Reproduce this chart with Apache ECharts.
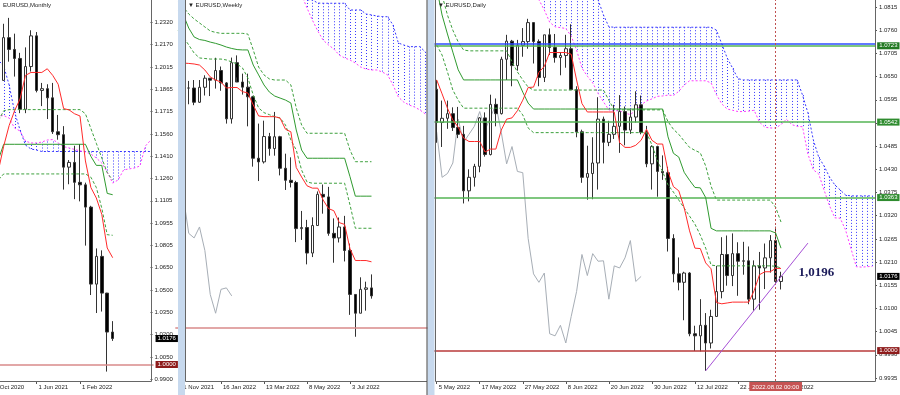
<!DOCTYPE html>
<html><head><meta charset="utf-8">
<script src="https://cdn.jsdelivr.net/npm/echarts/dist/echarts.min.js"></script>
<style>html,body{margin:0;padding:0;background:#fff}#c{width:900px;height:395px}</style>
</head><body><div id="c"></div>
<script>
// ================= MONTHLY =================
const mCats = ['2020.10','2020.11','2020.12','2021.01','2021.02','2021.03','2021.04','2021.05','2021.06','2021.07','2021.08','2021.09','2021.10','2021.11','2021.12','2022.01','2022.02','2022.03','2022.04','2022.05','2022.06','2022.07','2022.08','2022.09','2022.10','2022.11','2022.12','2023.01','2023.02','2023.03'];
const mOpen  = [1.1720,1.1646,1.1926,1.2216,1.2136,1.2075,1.1730,1.2020,1.2228,1.1858,1.1870,1.1808,1.1578,1.1558,1.1338,1.1370,1.1235,1.1218,1.1067,1.0545,1.0733,1.0484,1.0220];
const mHigh  = [1.1881,1.2004,1.2310,1.2350,1.2243,1.2113,1.2150,1.2266,1.2254,1.1909,1.1900,1.1909,1.1692,1.1616,1.1386,1.1483,1.1495,1.1233,1.1076,1.0787,1.0774,1.0486,1.0294];
const mLow   = [1.1612,1.1603,1.1925,1.2053,1.1952,1.1704,1.1704,1.1986,1.1845,1.1752,1.1664,1.1563,1.1524,1.1186,1.1222,1.1121,1.1106,1.0806,1.0471,1.0349,1.0359,0.9952,1.0160];
const mClose = [1.1646,1.1926,1.2216,1.2136,1.2075,1.1730,1.2020,1.2228,1.1858,1.1870,1.1808,1.1578,1.1558,1.1338,1.1370,1.1235,1.1218,1.1067,1.0545,1.0733,1.0484,1.0220,1.0176];
const mTenkan = [1.1250,1.1310,1.1480,1.1620,1.1720,1.1800,1.1960,1.1980,1.1980,1.1980,1.2005,1.1960,1.1900,1.1735,1.1726,1.1700,1.1685,1.1380,1.1200,1.1129,1.1018,1.0790,1.0724];
const mKijun  = [1.1330,1.1386,1.1493,1.1493,1.1493,1.1493,1.1493,1.1493,1.1493,1.1493,1.1493,1.1493,1.1493,1.1493,1.1493,1.1493,1.1493,1.1493,1.1411,1.1350,1.1350,1.1160,1.1151];
const mDashUp  = [1.1600,1.1650,1.1720,1.1728,1.1728,1.1728,1.1728,1.1728,1.1728,1.1728,1.1728,1.1728,1.1728,1.1728,1.1728,1.1728,1.1728,1.1700,1.1600,1.1500,1.1400,1.1300,1.1250];
const mDashLow = [1.1200,1.1250,1.1292,1.1292,1.1292,1.1292,1.1292,1.1292,1.1292,1.1292,1.1292,1.1292,1.1292,1.1292,1.1292,1.1292,1.1292,1.1292,1.1270,1.1200,1.1060,1.0880,1.0876];
const mSpanBlue = [1.2150,1.2064,1.2024,1.1895,1.1712,1.1590,1.1488,1.1461,1.1454,1.1444,1.1444,1.1444,1.1444,1.1444,1.1444,1.1444,1.1444,1.1444,1.1444,1.1444,1.1444,1.1444,1.1444,1.1444,1.1444,1.1444,1.1444,1.1444,1.1444,1.1444];
const mSpanMag  = [1.1690,1.1684,1.1688,1.1671,1.1603,1.1583,1.1515,1.1502,1.1502,1.1508,1.1522,1.1525,1.1502,1.1477,1.1468,1.1458,1.1448,1.1441,1.1427,1.1400,1.1366,1.1305,1.1230,1.1251,1.1319,1.1326,1.1332,1.1346,1.1481,1.1522];
const mPriceTicks = ['0.9900','1.0050','1.0200','1.0350','1.0500','1.0650','1.0805','1.0955','1.1105','1.1260','1.1410','1.1560','1.1715','1.1865','1.2015','1.2170','1.2320'];
const mTimeTickIdx = [0,8,16];
const mTimeTicks = ['1 Oct 2020','1 Jun 2021','1 Feb 2022'];

// ================= WEEKLY =================
const wCats = ['2021.11.21','2021.11.28','2021.12.05','2021.12.12','2021.12.19','2021.12.26','2022.01.02','2022.01.09','2022.01.16','2022.01.23','2022.01.30','2022.02.06','2022.02.13','2022.02.20','2022.02.27','2022.03.06','2022.03.13','2022.03.20','2022.03.27','2022.04.03','2022.04.10','2022.04.17','2022.04.24','2022.05.01','2022.05.08','2022.05.15','2022.05.22','2022.05.29','2022.06.05','2022.06.12','2022.06.19','2022.06.26','2022.07.03','2022.07.10','2022.07.17','2022.07.24','2022.07.31','2022.08.07','2022.08.14','2022.08.21','2022.08.28','2022.09.04','2022.09.11','2022.09.18','2022.09.25','2022.10.02','2022.10.09'];
const wOpen  = [null,1.1318,1.1316,1.1316,1.1238,1.1320,1.1370,1.1359,1.1412,1.1344,1.1147,1.1455,1.1349,1.1321,1.1268,1.0931,1.0911,1.1050,1.0984,1.1049,1.0876,1.0810,1.0798,1.0545,1.0551,1.0411,1.0562,1.0733,1.0719,1.0519,1.0494,1.0554,1.0425,1.0184,1.0081,1.0212,1.0220];
const wHigh  = [null,1.1383,1.1355,1.1360,1.1360,1.1386,1.1370,1.1482,1.1434,1.1349,1.1483,1.1495,1.1395,1.1395,1.1273,1.1121,1.1137,1.1070,1.1185,1.1054,1.0956,1.0936,1.0807,1.0642,1.0593,1.0607,1.0749,1.0787,1.0774,1.0601,1.0606,1.0615,1.0463,1.0186,1.0278,1.0254,1.0294];
const wLow   = [null,1.1235,1.1227,1.1222,1.1234,1.1275,1.1272,1.1313,1.1301,1.1121,1.1121,1.1374,1.1280,1.1106,1.0885,1.0806,1.0902,1.0945,1.0945,1.0837,1.0757,1.0771,1.0471,1.0483,1.0349,1.0389,1.0560,1.0627,1.0506,1.0358,1.0469,1.0365,1.0072,0.9952,1.0081,1.0095,1.0161];
const wClose = [null,1.1316,1.1316,1.1238,1.1320,1.1370,1.1359,1.1412,1.1344,1.1147,1.1455,1.1349,1.1321,1.1268,1.0931,1.0911,1.1050,1.0984,1.1049,1.0876,1.0810,1.0798,1.0545,1.0551,1.0411,1.0562,1.0733,1.0719,1.0519,1.0494,1.0554,1.0425,1.0184,1.0081,1.0212,1.0220,1.0176];
const wTenkan = [1.1455,1.1453,1.1451,1.1448,1.1442,1.1415,1.1377,1.1360,1.1349,1.1316,1.1319,1.1319,1.1296,1.1289,1.1223,1.1163,1.1159,1.1159,1.1159,1.1151,1.1090,1.1076,1.0880,1.0828,1.0780,1.0767,1.0767,1.0702,1.0655,1.0643,1.0578,1.0568,1.0435,1.0370,1.0370,1.0370,1.0363];
const wKijun  = [1.1740,1.1717,1.1645,1.1596,1.1582,1.1577,1.1568,1.1561,1.1552,1.1541,1.1533,1.1527,1.1525,1.1525,1.1442,1.1388,1.1333,1.1294,1.1272,1.1261,1.1250,1.1234,1.1086,1.0976,1.0931,1.0931,1.0931,1.0931,1.0931,1.0931,1.0931,1.0931,1.0830,1.0723,1.0723,1.0723,1.0723];
const wDashUp  = [1.1788,1.1760,1.1722,1.1695,1.1673,1.1651,1.1629,1.1621,1.1616,1.1616,1.1616,1.1616,1.1616,1.1612,1.1525,1.1431,1.1388,1.1366,1.1360,1.1360,1.1360,1.1333,1.1207,1.1113,1.1068,1.1068,1.1068,1.1068,1.1068,1.1068,1.1068,1.1068,1.0976,1.0912,1.0912,1.0912,1.0912];
const wDashLow = [1.1634,1.1596,1.1552,1.1508,1.1481,1.1478,1.1475,1.1475,1.1475,1.1470,1.1459,1.1448,1.1426,1.1371,1.1278,1.1207,1.1181,1.1170,1.1159,1.1152,1.1113,1.1031,1.0976,1.0866,1.0801,1.0794,1.0794,1.0794,1.0794,1.0794,1.0794,1.0794,1.0675,1.0547,1.0547,1.0547,1.0547];
const wSpanBlue = [null,null,null,null,null,null,null,null,null,null,null,null,null,null,null,null,null,null,null,null,null,null,null,1.1830,1.1799,1.1800,1.1782,1.1781,1.1781,1.1781,1.1781,1.1781,1.1744,1.1744,1.1744,1.1722,1.1717,1.1711,1.1708,1.1707,1.1662,1.1563,1.1552,1.1543,1.1543,1.1543,1.1514];
const wSpanMag  = [null,null,null,null,null,null,null,null,null,null,null,null,null,null,null,null,null,null,null,null,null,null,null,1.1827,1.1755,1.1689,1.1629,1.1579,1.1552,1.1530,1.1497,1.1481,1.1470,1.1453,1.1431,1.1420,1.1415,1.1415,1.1404,1.1388,1.1333,1.1267,1.1239,1.1223,1.1212,1.1196,1.1174];
const wChikou = [1.0733,1.0719,1.0519,1.0494,1.0554,1.0425,1.0184,1.0081,1.0212,1.0220,1.0176];
const wTimeTickIdx = [0,8,16,24,32];
const wTimeTicks = ['21 Nov 2021','16 Jan 2022','13 Mar 2022','8 May 2022','3 Jul 2022'];

// ================= DAILY =================
const dCats = ['2022.05.05','2022.05.06','2022.05.09','2022.05.10','2022.05.11','2022.05.12','2022.05.13','2022.05.16','2022.05.17','2022.05.18','2022.05.19','2022.05.20','2022.05.23','2022.05.24','2022.05.25','2022.05.26','2022.05.27','2022.05.30','2022.05.31','2022.06.01','2022.06.02','2022.06.03','2022.06.06','2022.06.07','2022.06.08','2022.06.09','2022.06.10','2022.06.13','2022.06.14','2022.06.15','2022.06.16','2022.06.17','2022.06.20','2022.06.21','2022.06.22','2022.06.23','2022.06.24','2022.06.27','2022.06.28','2022.06.29','2022.06.30','2022.07.01','2022.07.04','2022.07.05','2022.07.06','2022.07.07','2022.07.08','2022.07.11','2022.07.12','2022.07.13','2022.07.14','2022.07.15','2022.07.18','2022.07.19','2022.07.20','2022.07.21','2022.07.22','2022.07.25','2022.07.26','2022.07.27','2022.07.28','2022.07.29','2022.08.01','2022.08.02','2022.08.03','2022.08.04','2022.08.05','2022.08.08','2022.08.09','2022.08.10','2022.08.11','2022.08.12','2022.08.15','2022.08.16','2022.08.17','2022.08.18','2022.08.19','2022.08.22','2022.08.23','2022.08.24','2022.08.25','2022.08.26'];
const dOpen  = [1.0620,1.0541,1.0551,1.0562,1.0529,1.0513,1.0379,1.0411,1.0437,1.0552,1.0465,1.0584,1.0562,1.0691,1.0734,1.0676,1.0724,1.0733,1.0778,1.0733,1.0648,1.0749,1.0719,1.0695,1.0700,1.0716,1.0619,1.0519,1.0411,1.0420,1.0445,1.0549,1.0494,1.0513,1.0532,1.0567,1.0523,1.0554,1.0583,1.0518,1.0443,1.0484,1.0425,1.0422,1.0266,1.0182,1.0162,1.0184,1.0040,1.0035,1.0060,1.0018,1.0081,1.0140,1.0228,1.0178,1.0230,1.0212,1.0213,1.0122,1.0201,1.0196,1.0220,1.0261,1.0164];
const dHigh  = [1.0642,1.0593,1.0593,1.0577,1.0578,1.0533,1.0430,1.0443,1.0554,1.0565,1.0607,1.0598,1.0697,1.0749,1.0737,1.0737,1.0765,1.0787,1.0778,1.0738,1.0749,1.0764,1.0751,1.0708,1.0749,1.0774,1.0627,1.0524,1.0486,1.0506,1.0601,1.0555,1.0545,1.0583,1.0606,1.0579,1.0572,1.0615,1.0605,1.0533,1.0487,1.0486,1.0463,1.0436,1.0276,1.0221,1.0187,1.0186,1.0059,1.0122,1.0089,1.0097,1.0201,1.0269,1.0273,1.0278,1.0257,1.0258,1.0247,1.0214,1.0234,1.0254,1.0274,1.0294,1.0187];
const dLow   = [1.0493,1.0483,1.0526,1.0521,1.0504,1.0349,1.0354,1.0389,1.0423,1.0460,1.0463,1.0532,1.0560,1.0642,1.0627,1.0664,1.0697,1.0716,1.0681,1.0627,1.0637,1.0701,1.0683,1.0653,1.0671,1.0618,1.0506,1.0398,1.0358,1.0359,1.0382,1.0444,1.0485,1.0502,1.0469,1.0487,1.0514,1.0541,1.0513,1.0435,1.0382,1.0365,1.0405,1.0235,1.0162,1.0143,1.0072,1.0034,0.9999,0.9998,0.9952,1.0005,1.0081,1.0124,1.0154,1.0153,1.0130,1.0180,1.0110,1.0095,1.0097,1.0146,1.0185,1.0161,1.0145];
const dClose = [1.0541,1.0551,1.0562,1.0529,1.0513,1.0379,1.0411,1.0437,1.0552,1.0465,1.0584,1.0562,1.0691,1.0734,1.0676,1.0724,1.0733,1.0778,1.0733,1.0648,1.0749,1.0719,1.0695,1.0700,1.0716,1.0619,1.0519,1.0411,1.0420,1.0445,1.0549,1.0494,1.0513,1.0532,1.0567,1.0523,1.0554,1.0583,1.0518,1.0443,1.0484,1.0425,1.0422,1.0266,1.0182,1.0162,1.0184,1.0040,1.0035,1.0060,1.0018,1.0081,1.0140,1.0228,1.0178,1.0230,1.0212,1.0213,1.0122,1.0201,1.0196,1.0220,1.0261,1.0164,1.0176];
const dTenkan = [1.0642,1.0609,1.0575,1.0547,1.0530,1.0504,1.0496,1.0496,1.0496,1.0471,1.0478,1.0478,1.0523,1.0549,1.0552,1.0569,1.0594,1.0624,1.0625,1.0660,1.0674,1.0707,1.0707,1.0707,1.0707,1.0703,1.0642,1.0586,1.0566,1.0566,1.0566,1.0566,1.0566,1.0566,1.0493,1.0482,1.0482,1.0487,1.0499,1.0525,1.0499,1.0490,1.0490,1.0425,1.0389,1.0379,1.0339,1.0284,1.0243,1.0242,1.0208,1.0194,1.0114,1.0111,1.0113,1.0115,1.0115,1.0115,1.0115,1.0142,1.0180,1.0187,1.0187,1.0195,1.0195];
const dKijun  = [1.0860,1.0796,1.0751,1.0708,1.0666,1.0642,1.0642,1.0642,1.0642,1.0642,1.0642,1.0642,1.0642,1.0642,1.0642,1.0642,1.0613,1.0587,1.0573,1.0573,1.0573,1.0573,1.0573,1.0573,1.0573,1.0573,1.0573,1.0573,1.0573,1.0573,1.0573,1.0573,1.0573,1.0573,1.0573,1.0573,1.0573,1.0573,1.0573,1.0573,1.0573,1.0573,1.0573,1.0507,1.0468,1.0459,1.0423,1.0404,1.0387,1.0386,1.0363,1.0290,1.0284,1.0284,1.0284,1.0284,1.0284,1.0284,1.0284,1.0284,1.0284,1.0284,1.0284,1.0279,1.0243];
const dDashUp  = [1.0860,1.0843,1.0796,1.0760,1.0732,1.0713,1.0711,1.0711,1.0711,1.0711,1.0711,1.0711,1.0711,1.0711,1.0685,1.0661,1.0642,1.0625,1.0618,1.0618,1.0618,1.0618,1.0618,1.0618,1.0618,1.0618,1.0618,1.0618,1.0618,1.0618,1.0618,1.0618,1.0594,1.0571,1.0571,1.0571,1.0571,1.0571,1.0571,1.0571,1.0571,1.0571,1.0571,1.0543,1.0525,1.0513,1.0497,1.0482,1.0475,1.0469,1.0438,1.0390,1.0357,1.0357,1.0357,1.0357,1.0357,1.0357,1.0357,1.0357,1.0357,1.0357,1.0357,1.0340,1.0305];
const dDashLow = [1.0725,1.0701,1.0661,1.0618,1.0594,1.0575,1.0575,1.0575,1.0575,1.0575,1.0575,1.0575,1.0575,1.0575,1.0575,1.0575,1.0559,1.0528,1.0517,1.0517,1.0517,1.0517,1.0517,1.0517,1.0517,1.0517,1.0517,1.0517,1.0517,1.0517,1.0517,1.0517,1.0517,1.0517,1.0517,1.0517,1.0517,1.0517,1.0517,1.0517,1.0488,1.0452,1.0424,1.0393,1.0376,1.0357,1.0338,1.0319,1.0300,1.0274,1.0243,1.0203,1.0201,1.0201,1.0201,1.0201,1.0201,1.0201,1.0201,1.0201,1.0201,1.0201,1.0201,1.0200,1.0196];
const dSpanMag = [null,null,null,null,null,null,null,null,null,null,null,null,null,null,null,null,null,null,1.0870,1.0832,1.0808,1.0779,1.0768,1.0766,1.0764,1.0746,1.0713,1.0670,1.0651,1.0635,1.0610,1.0590,1.0571,1.0569,1.0569,1.0563,1.0560,1.0570,1.0583,1.0592,1.0597,1.0603,1.0604,1.0606,1.0605,1.0615,1.0630,1.0640,1.0640,1.0640,1.0640,1.0635,1.0607,1.0585,1.0573,1.0570,1.0567,1.0567,1.0568,1.0570,1.0542,1.0530,1.0528,1.0528,1.0536,1.0549,1.0536,1.0532,1.0531,1.0466,1.0429,1.0419,1.0381,1.0344,1.0315,1.0314,1.0286,1.0242,1.0199,1.0198,1.0199,1.0200];
const dSpanBlue = [null,null,null,null,null,null,null,null,null,null,null,null,null,null,null,null,null,null,1.0900,1.0900,1.0900,1.0900,1.0900,1.0900,1.0900,1.0900,1.0900,1.0900,1.0900,1.0860,1.0832,1.0796,1.0768,1.0767,1.0767,1.0767,1.0767,1.0767,1.0767,1.0767,1.0767,1.0767,1.0767,1.0767,1.0767,1.0767,1.0767,1.0767,1.0767,1.0767,1.0767,1.0767,1.0760,1.0727,1.0694,1.0670,1.0645,1.0642,1.0642,1.0642,1.0642,1.0642,1.0642,1.0642,1.0642,1.0642,1.0642,1.0642,1.0606,1.0564,1.0500,1.0459,1.0438,1.0412,1.0393,1.0381,1.0369,1.0367,1.0367,1.0367,1.0367,1.0367];
const dChikou = [1.0519,1.0411,1.0420,1.0445,1.0549,1.0494,1.0513,1.0532,1.0567,1.0523,1.0554,1.0583,1.0518,1.0443,1.0484,1.0425,1.0422,1.0266,1.0182,1.0162,1.0184,1.0040,1.0035,1.0060,1.0018,1.0081,1.0140,1.0228,1.0178,1.0230,1.0212,1.0213,1.0122,1.0201,1.0196,1.0220,1.0261,1.0164,1.0176];
const dPriceTicks = ['0.9935','0.9990','1.0045','1.0100','1.0155','1.0210','1.0265','1.0320','1.0375','1.0430','1.0485','1.0540','1.0595','1.0650','1.0705','1.0760','1.0815'];
const dTimeTickIdx = [0,8,16,24,32,40,48,56,64];
const dTimeTicks = ['5 May 2022','17 May 2022','27 May 2022','8 Jun 2022','20 Jun 2022','30 Jun 2022','12 Jul 2022','22 Jul 2022','3 Aug 2022'];
const dLevels = [1.0728,1.0723,1.0542,1.0363,1.0000];
const dLevelTexts = ['','1.0723','1.0542','1.0363','1.0000'];
const lastPrice = 1.0176;
const trendFrom = [50,0.9952], trendTo = [69,1.0255];
const noteAt = [70,1.0186], noteText = '1,0196';
const crossIdx = 63, crossText = '2022.08.02 00:00';

// ================= BUILD =================
const FONT = 'Liberation Sans, Arial, sans-serif';
const FS = 6;
const ohlc = (o,h,l,c) => o.map((v,i)=> v==null ? ['-','-','-','-'] : [v,c[i],l[i],h[i]]);
const hatch = (a,b) => { const r=[]; for(let i=0;i<a.length;i++){ if(a[i]!=null && b[i]!=null) r.push([i,a[i],b[i]]); } return r; };

// panel geometry (pixels)
const GM = {left:-9.95, top:0, width:163.5, height:381, min:1.2320-(381-22.3)/1475, max:1.2320+22.3/1475};
const GW = {left:175.31, top:0, width:252.625, height:381, min:1-(381-328)/1823.4, max:1+328/1823.4};
const GD = {left:434.0, top:0, width:441.16, height:381, min:1.0815-(381-7)/4216, max:1.0815+7/4216};

const C = {red:'#ff2a2a', green:'#2f9a2f', dash:'#3da03d', blue:'#3838ff', mag:'#ff3cff', gray:'#a7aeb6'};

function catX(gi, data, idx, labels){
  return {type:'category', gridIndex:gi, data, boundaryGap:true,
    axisLine:{show:false},
    axisTick:{show:true, alignWithLabel:true, length:3, interval:(i)=>idx.includes(i), lineStyle:{color:'#555'}},
    axisLabel:{show:true, interval:(i)=>idx.includes(i), formatter:(v,i)=>{const k=idx.indexOf(i); return k<0?'':labels[k];},
      align:'left', fontSize:FS, color:'#222', fontFamily:FONT, margin:3, padding:[0,0,0,2], hideOverlap:false},
    splitLine:{show:false}};
}
function valY(gi, g){ return {type:'value', gridIndex:gi, min:g.min, max:g.max, show:false, splitLine:{show:false}}; }
function lblY(gi, ticks){
  return {type:'value', gridIndex:gi, min:0, max:ticks.length-1, interval:1, position:'right',
    axisLine:{show:false}, axisTick:{show:true, length:2, lineStyle:{color:'#555'}},
    axisLabel:{formatter:(v)=>ticks[Math.round(v)]||'', fontSize:FS, color:'#222', fontFamily:FONT, margin:3},
    splitLine:{show:false}};
}
function line(ai, data, color, type, width, z){
  return {type:'line', xAxisIndex:ai, yAxisIndex:ai, data, symbol:'none', showSymbol:false, silent:true,
    lineStyle:{color, width:width||1, type:type||'solid'}, z:z||4, animation:false};
}
function candles(ai, data){
  return {type:'candlestick', xAxisIndex:ai, yAxisIndex:ai, data, barWidth:3, silent:true, z:3,
    itemStyle:{color:'#ffffff', color0:'#000000', borderColor:'#333', borderColor0:'#333', borderWidth:1}};
}
function hatchSeries(ai, data){
  return {type:'custom', xAxisIndex:ai, yAxisIndex:ai, data, clip:true, silent:true, z:1,
    encode:{x:0, y:[1,2]},
    renderItem:(p, api)=>{
      const i = api.value(0);
      const p1 = api.coord([i, api.value(1)]);
      const p2 = api.coord([i, api.value(2)]);
      const x = Math.round(p1[0]) + 0.5;
      return {type:'line', shape:{x1:x, y1:p1[1], x2:x, y2:p2[1]}, style:{stroke:C.blue, lineWidth:1, lineDash:[1,2]}};
    }};
}
const boxLabel = (txt,bg) => ({show:true, position:'end', formatter:txt, color:'#fff', backgroundColor:bg,
  padding:[1,2,0,2], fontSize:FS, fontFamily:FONT, distance:2});
const noLabel = {show:false};

// monthly
const mKijunS = line(0, mKijun, C.green, 'solid', 1, 5);
mKijunS.markLine = {symbol:['none','none'], silent:true, animation:false, precision:4, data:[
  {yAxis:1.0000, lineStyle:{color:'#d88a8a', width:1.5, type:'solid'}, label:boxLabel('1.0000','#8e1b1b')},
  {yAxis:lastPrice, lineStyle:{color:'rgba(0,0,0,0)', width:0}, label:boxLabel('1.0176','#000')}
]};
// weekly
const wKijunS = line(2, wKijun, C.green, 'solid', 1, 5);
wKijunS.markLine = {symbol:['none','none'], silent:true, animation:false, precision:4, data:[
  {yAxis:1.0000, lineStyle:{color:'#d88a8a', width:1.5, type:'solid'}, label:noLabel}
]};
// daily
const lvlColors = ['#2d4dff','#55b455','#55b455','#55b455','#b83a3a'];
const lvlBg = ['#2d4dff','#237a23','#2f8c2f','#2f8c2f','#8e1b1b'];
const dKijunS = line(3, dKijun, C.green, 'solid', 1, 5);
dKijunS.markLine = {symbol:['none','none'], silent:true, animation:false, precision:4, data:
  dLevels.map((v,i)=>({yAxis:v, lineStyle:{color:lvlColors[i], width:1.5, type:'solid'},
    label: dLevelTexts[i] ? boxLabel(dLevelTexts[i], lvlBg[i]) : noLabel}))
  .concat([
    {yAxis:lastPrice, lineStyle:{color:'rgba(0,0,0,0)', width:0}, label:boxLabel('1.0176','#000')},
    {xAxis:crossIdx, lineStyle:{color:'#c05050', width:1, type:[2,2]},
      label:{show:true, position:'start', formatter:crossText, color:'#fff', backgroundColor:'#c65353', padding:[2,3,1,3], fontSize:FS, fontFamily:FONT, distance:1}},
    [{coord:trendFrom, lineStyle:{color:'#a64fd6', width:1, type:'solid'}, label:noLabel},{coord:trendTo}]
  ])};
dKijunS.markPoint = {silent:true, animation:false, precision:4, symbol:'rect', symbolSize:1, itemStyle:{color:'rgba(0,0,0,0)'},
  data:[{coord:noteAt, label:{show:true, position:'inside', formatter:noteText, offset:[3,0], fontFamily:'Liberation Serif, Times New Roman, serif', fontWeight:'bold', fontSize:13, color:'#1c1c5a'}}]};

const gridBase = {containLabel:false, outerBoundsMode:'none'};
const option = {
  animation:false,
  backgroundColor:'#ffffff',
  grid:[
    Object.assign({left:GM.left, top:GM.top, width:GM.width, height:GM.height}, gridBase),
    Object.assign({left:150.5, top:22.3, width:1, height:357}, gridBase),
    Object.assign({left:GW.left, top:GW.top, width:GW.width, height:GW.height}, gridBase),
    Object.assign({left:GD.left, top:GD.top, width:GD.width, height:GD.height}, gridBase),
    Object.assign({left:875, top:7, width:1, height:371}, gridBase)
  ],
  xAxis:[
    catX(0, mCats, mTimeTickIdx, mTimeTicks),
    {type:'value', gridIndex:1, show:false, min:0, max:1},
    catX(2, wCats, wTimeTickIdx, wTimeTicks),
    catX(3, dCats, dTimeTickIdx, dTimeTicks),
    {type:'value', gridIndex:4, show:false, min:0, max:1}
  ],
  yAxis:[
    valY(0, GM), lblY(1, mPriceTicks), valY(2, GW), valY(3, GD), lblY(4, dPriceTicks)
  ],
  series:[
    hatchSeries(0, hatch(mSpanBlue, mSpanMag)),
    line(0, mSpanBlue, C.blue, [2,2], 1, 2),
    line(0, mSpanMag, C.mag, [2,2], 1, 2),
    candles(0, ohlc(mOpen, mHigh, mLow, mClose)),
    line(0, mDashUp, C.dash, [3,2], 1, 4),
    line(0, mDashLow, C.dash, [3,2], 1, 4),
    mKijunS,
    line(0, mTenkan, C.red, 'solid', 1, 6),
    hatchSeries(2, hatch(wSpanBlue, wSpanMag)),
    line(2, wSpanBlue, C.blue, [2,2], 1, 2),
    line(2, wSpanMag, C.mag, [2,2], 1, 2),
    line(2, wChikou, C.gray, 'solid', 1, 2),
    candles(2, ohlc(wOpen, wHigh, wLow, wClose)),
    line(2, wDashUp, C.dash, [3,2], 1, 4),
    line(2, wDashLow, C.dash, [3,2], 1, 4),
    wKijunS,
    line(2, wTenkan, C.red, 'solid', 1, 6),
    hatchSeries(3, hatch(dSpanBlue, dSpanMag)),
    line(3, dSpanBlue, C.blue, [2,2], 1, 2),
    line(3, dSpanMag, C.mag, [2,2], 1, 2),
    line(3, dChikou, C.gray, 'solid', 1, 2),
    candles(3, ohlc(dOpen, dHigh, dLow, dClose)),
    line(3, dDashUp, C.dash, [3,2], 1, 4),
    line(3, dDashLow, C.dash, [3,2], 1, 4),
    dKijunS,
    line(3, dTenkan, C.red, 'solid', 1, 6)
  ],
  graphic:[
    {type:'rect', z:100, shape:{x:178, y:0, width:7, height:395}, style:{fill:'#c7d9ee'}},
    {type:'rect', z:100, shape:{x:427.5, y:0, width:7, height:395}, style:{fill:'#c7d9ee'}},
    {type:'polyline', z:101, shape:{points:[[151.5,0],[151.5,381.5],[0,381.5]]}, style:{stroke:'#666', lineWidth:1, fill:null}},
    {type:'polyline', z:101, shape:{points:[[185.5,0],[185.5,381.5],[427,381.5]]}, style:{stroke:'#666', lineWidth:1, fill:null}},
    {type:'line', z:101, shape:{x1:427,y1:0,x2:427,y2:395}, style:{stroke:'#444', lineWidth:1}},
    {type:'polyline', z:101, shape:{points:[[435.5,0],[435.5,381.5],[875.5,381.5],[875.5,0]]}, style:{stroke:'#666', lineWidth:1, fill:null}},
    {type:'text', z:102, x:3, y:2, style:{text:'EURUSD,Monthly', fontSize:FS, fontFamily:FONT, fill:'#222'}},
    {type:'text', z:102, x:188, y:2, style:{text:'\u25BC EURUSD,Weekly', fontSize:FS, fontFamily:FONT, fill:'#222'}},
    {type:'text', z:102, x:438, y:2, style:{text:'\u25BC EURUSD,Daily', fontSize:FS, fontFamily:FONT, fill:'#222'}}
  ]
};
const chart = echarts.init(document.getElementById('c'), null, {renderer:'canvas'});
chart.setOption(option);
</script></body></html>
